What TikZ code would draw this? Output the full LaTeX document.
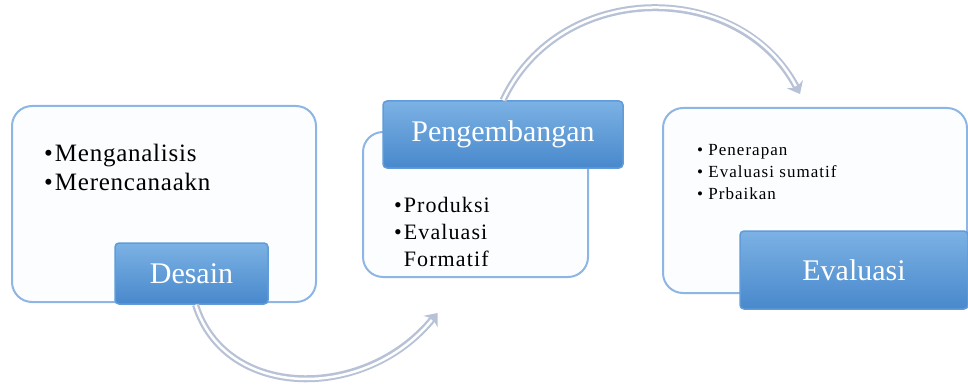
\documentclass[tikz,border=0pt]{standalone}
\usepackage{fontspec}
\setmainfont{Liberation Serif}
\usepackage{tikz}
\usetikzlibrary{arrows.meta}

\definecolor{panelline}{RGB}{141,182,228}
\definecolor{panelfill}{RGB}{252,253,255}
\definecolor{tabtop}{RGB}{124,178,228}
\definecolor{tabbottom}{RGB}{72,136,204}
\definecolor{tabline}{RGB}{96,156,218}
\definecolor{flowline}{RGB}{184,194,214}

\begin{document}
\begin{tikzpicture}[
x=1pt,
y=-1pt,
panel/.style={rectangle,
								rounded corners=20pt,
								draw=panelline,
								line width=2pt,
								fill=panelfill,
								inner sep=0pt},
tab/.style={rectangle,
								rounded corners=4pt,
								draw=tabline,
								line width=1.5pt,
								top color=tabtop,
								bottom color=tabbottom,
								text=white,
								font=\fontsize{30}{30}\selectfont,
								inner sep=0pt},
items/.style={anchor=north west,
								align=left,
								inner sep=0pt},
flow/.style={line width=7pt,
								draw=flowline,
								-{Stealth[length=11pt,width=18pt]}},
flowcore/.style={line width=2.5pt,
								draw=white,
								shorten >=9pt}]
\useasboundingbox (0,0) rectangle (968,385);
%Desain
  \node[panel, minimum width=304pt, minimum height=196pt] (desainbox) at (164,204) {};
  \node[items, font=\fontsize{25}{29.5}\selectfont\addfontfeature{LetterSpace=3}] (desainlist) at (44,143.5)
    {\textbullet\kern2pt Menganalisis\\ \textbullet\kern2pt Merencanaakn};
  \node[tab, minimum width=153pt, minimum height=61pt] (desaintab) at (191.5,273.5) {Desain};
%Pengembangan
  \node[panel, minimum width=225pt, minimum height=145pt] (pengbox) at (475.5,204.5) {};
  \node[items, font=\fontsize{22}{27}\selectfont\addfontfeature{LetterSpace=5}] (penglist) at (394,197.5)
    {\textbullet\kern2pt Produksi\\ \textbullet\kern2pt Evaluasi\\ \phantom{\textbullet\kern2pt}Formatif};
  \node[tab, minimum width=240pt, minimum height=67pt] (pengtab) at (503,134.5) {Pengembangan};
%Evaluasi
  \node[panel, minimum width=304pt, minimum height=185pt] (evalbox) at (815,200.5) {};
  \node[items, font=\fontsize{17}{22}\selectfont\addfontfeature{LetterSpace=6}] (evallist) at (697,144)
    {\textbullet{} Penerapan\\ \textbullet{} Evaluasi sumatif\\ \textbullet{} Prbaikan};
  \node[tab, minimum width=228pt, minimum height=78pt] (evaltab) at (854,270) {Evaluasi};
%ends of the arrows
  \coordinate (pengin) at ([shift={(-38,35)}]pengbox.south);
  \coordinate (evalin) at ([shift={(-15,-13)}]evalbox.north);
%paths
  \draw[flow] ([xshift=4pt]desaintab.south) .. controls (225,400) and (365,402) .. (pengin);
  \draw[flowcore] ([xshift=4pt]desaintab.south) .. controls (225,400) and (365,402) .. (pengin);
  \draw[flow] (pengtab.north) .. controls (560,-21) and (740,-21) .. (evalin);
  \draw[flowcore] (pengtab.north) .. controls (560,-21) and (740,-21) .. (evalin);
\end{tikzpicture}
\end{document}
